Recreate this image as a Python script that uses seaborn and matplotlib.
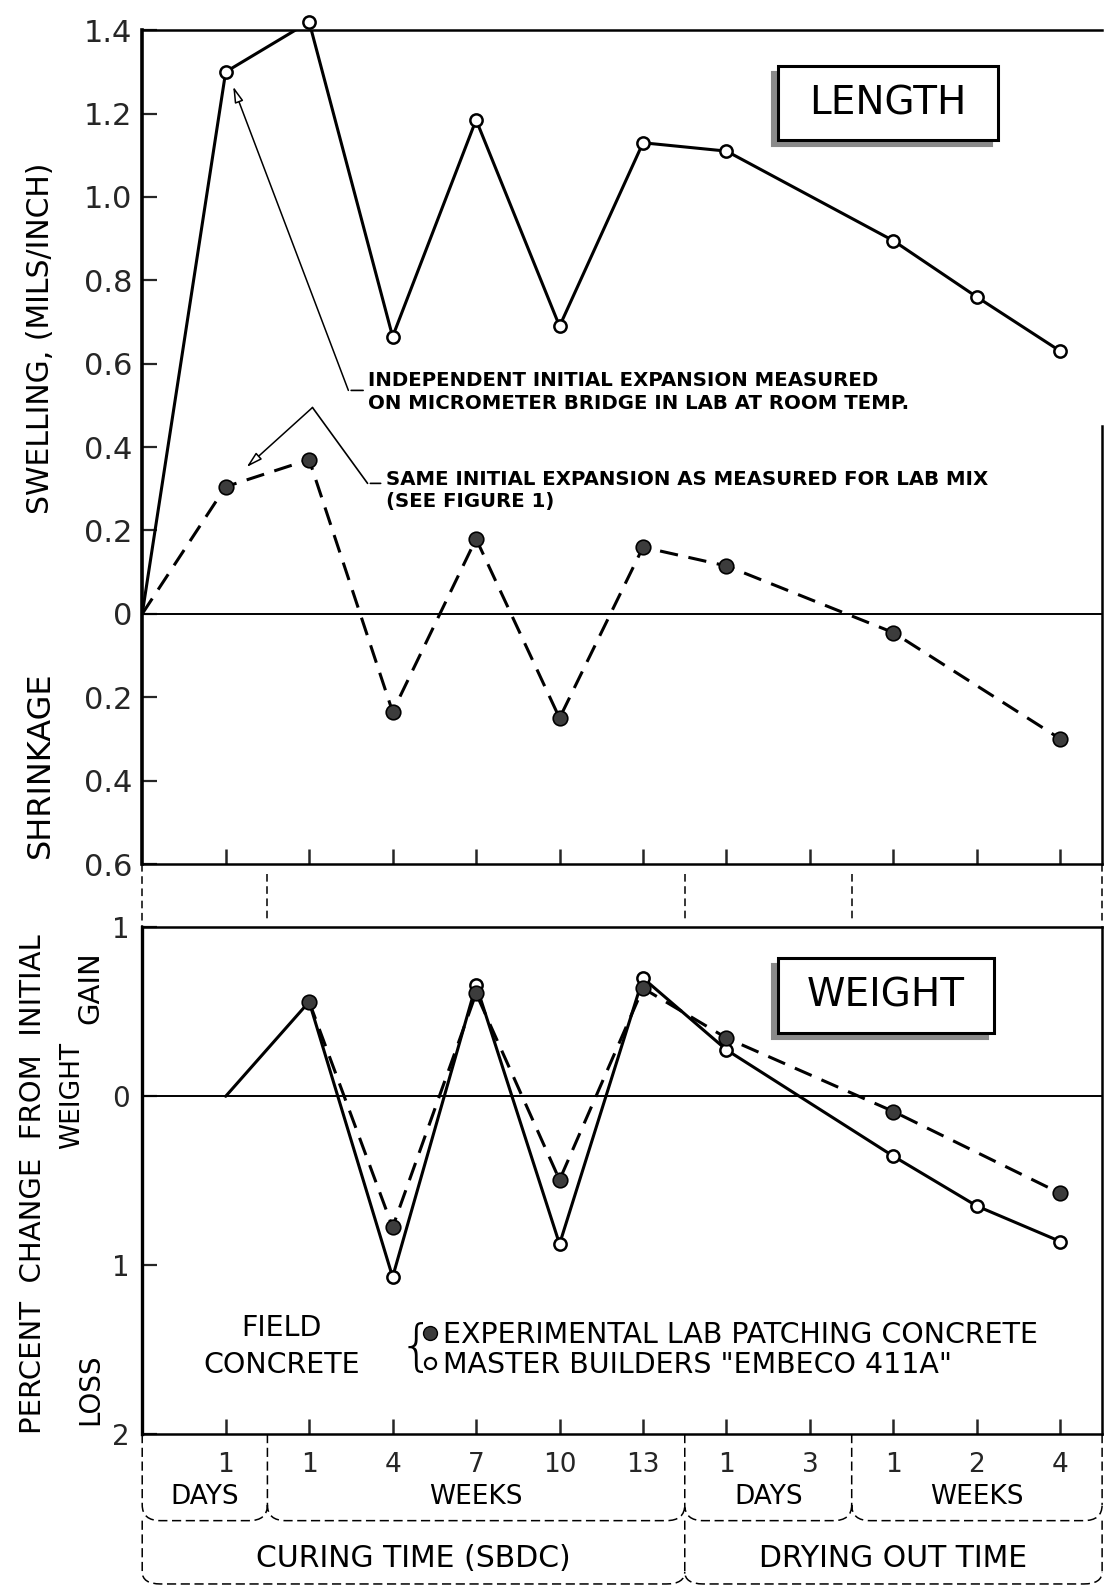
import matplotlib
matplotlib.use("Agg")
import matplotlib.pyplot as plt
import matplotlib.transforms as mtrans
from matplotlib.path import Path
from matplotlib.patches import PathPatch, Rectangle
from matplotlib.lines import Line2D
import pandas as pd
import seaborn as sns

# ---------------- data ----------------
tick_pos = [1, 2, 3, 4, 5, 6, 7, 8, 9, 10, 11]
tick_labels = ["1", "1", "4", "7", "10", "13", "1", "3", "1", "2", "4"]

len_open_x = [0, 1, 2, 3, 4, 5, 6, 7, 9, 10, 11]
len_open_y = [0, 1.30, 1.42, 0.665, 1.185, 0.69, 1.13, 1.11, 0.895, 0.76, 0.63]
len_fill_x = [0, 1, 2, 3, 4, 5, 6, 7, 9, 11]
len_fill_y = [0, 0.305, 0.37, -0.235, 0.18, -0.25, 0.16, 0.115, -0.045, -0.30]

wt_open_x = [1, 2, 3, 4, 5, 6, 7, 9, 10, 11]
wt_open_y = [0, 0.56, -1.07, 0.66, -0.875, 0.70, 0.275, -0.355, -0.65, -0.86]
wt_fill_x = [2, 3, 4, 5, 6, 7, 9, 11]
wt_fill_y = [0.56, -0.775, 0.61, -0.495, 0.64, 0.345, -0.09, -0.575]

group_bounds = [0, 1.5, 6.5, 8.5, 11.5]
group_names = ["DAYS", "WEEKS", "DAYS", "WEEKS"]
phase_bounds = [0, 6.5, 11.5]
phase_names = ["CURING TIME (SBDC)", "DRYING OUT TIME"]

len_yticks = [-0.6, -0.4, -0.2, 0, 0.2, 0.4, 0.6, 0.8, 1.0, 1.2, 1.4]
len_yticklabels = ["0.6", "0.4", "0.2", "0", "0.2", "0.4", "0.6", "0.8", "1.0", "1.2", "1.4"]
wt_yticks = [-2, -1, 0, 1]
wt_yticklabels = ["2", "1", "0", "1"]

# ---------------- style ----------------
sns.set_theme(style="white")
plt.rcParams["font.family"] = ["DejaVu Sans"]
plt.rcParams["text.color"] = "black"

fig = plt.figure(figsize=(11.11, 15.90), dpi=100)
ax1 = fig.add_axes([0.128, 0.4566, 0.864, 0.5244])
ax2 = fig.add_axes([0.128, 0.0981, 0.864, 0.3186])

LW = 2.2
DASH = (0, (6, 3.5))
FILLC = "#3c3c3c"


def draw_series(ax, x, y, dashed, filled, marker_skip_first=False):
    df = pd.DataFrame({"x": x, "y": y})
    kw = dict(linestyle=DASH) if dashed else {}
    sns.lineplot(data=df, x="x", y="y", ax=ax, color="black", lw=LW,
                 estimator=None, sort=False, zorder=3, **kw)
    dm = df.iloc[1:] if marker_skip_first else df
    if filled:
        sns.scatterplot(data=dm, x="x", y="y", ax=ax, s=110, color=FILLC,
                        edgecolor="black", linewidth=1.2, zorder=6, clip_on=False)
    else:
        sns.scatterplot(data=dm, x="x", y="y", ax=ax, s=78, color="white",
                        edgecolor="black", linewidth=1.8, zorder=5, clip_on=False)


def shadow_box(ax, x0, y0, x1, y1, label, fs=28):
    shift = mtrans.ScaledTranslation(-6 / 100, -6 / 100, fig.dpi_scale_trans)
    ax.add_patch(Rectangle((x0, y0), x1 - x0, y1 - y0, transform=ax.transAxes + shift,
                           fc="#8a8a8a", ec="#8a8a8a", lw=1.5, zorder=7, clip_on=False))
    ax.add_patch(Rectangle((x0, y0), x1 - x0, y1 - y0, transform=ax.transAxes,
                           fc="white", ec="black", lw=2.2, zorder=8, clip_on=False))
    ax.text((x0 + x1) / 2, (y0 + y1) / 2, label, transform=ax.transAxes, fontsize=fs,
            ha="center", va="center", color="black", zorder=9)


# ---------------- top panel: LENGTH ----------------
draw_series(ax1, len_open_x, len_open_y, dashed=False, filled=False, marker_skip_first=True)
draw_series(ax1, len_fill_x, len_fill_y, dashed=True, filled=True, marker_skip_first=True)
ax1.axhline(0, color="black", lw=1.4, zorder=2)
ax1.set_xlim(0, 11.5)
ax1.set_ylim(-0.6, 1.4)
ax1.set_xticks(tick_pos)
ax1.set_xticklabels([])
ax1.set_yticks(len_yticks)
ax1.set_yticklabels(len_yticklabels)
ax1.tick_params(axis="y", direction="in", length=11, width=1.6, pad=7,
                labelsize=22, left=True)
ax1.tick_params(axis="x", direction="in", length=11, width=1.8, bottom=True)
ax1.set_xlabel("")
ax1.set_ylabel("")
for s in ax1.spines.values():
    s.set_color("black")
    s.set_linewidth(1.8)
ax1.spines["left"].set_linewidth(2.6)
ax1.spines["right"].set_bounds(-0.6, 0.45)

# annotations
afs = 14.2
ax1.text(2.71, 0.582, "INDEPENDENT INITIAL EXPANSION MEASURED\nON MICROMETER BRIDGE IN LAB AT ROOM TEMP.",
         fontsize=afs, fontweight="bold", ha="left", va="top", linespacing=1.25)
ax1.annotate("", xy=(2.47, 0.536), xytext=(2.68, 0.536),
             arrowprops=dict(arrowstyle="-", color="black", lw=1.2))
ax1.annotate("", xy=(1.09, 1.265), xytext=(2.47, 0.536),
             arrowprops=dict(arrowstyle="-|>,head_length=0.8,head_width=0.22",
                             color="black", lw=1.1, fc="white", shrinkA=0, shrinkB=0))

ax1.text(2.92, 0.345, "SAME INITIAL EXPANSION AS MEASURED FOR LAB MIX\n(SEE FIGURE 1)",
         fontsize=afs, fontweight="bold", ha="left", va="top", linespacing=1.2)
ax1.annotate("", xy=(2.70, 0.313), xytext=(2.89, 0.313),
             arrowprops=dict(arrowstyle="-", color="black", lw=1.2))
ax1.annotate("", xy=(2.04, 0.495), xytext=(2.70, 0.313),
             arrowprops=dict(arrowstyle="-", color="black", lw=1.2, shrinkA=0, shrinkB=0))
ax1.annotate("", xy=(1.25, 0.352), xytext=(2.04, 0.495),
             arrowprops=dict(arrowstyle="-|>,head_length=0.8,head_width=0.22",
                             color="black", lw=1.1, fc="white", shrinkA=0, shrinkB=0))

shadow_box(ax1, 0.662, 0.868, 0.892, 0.957, "LENGTH")

# ---------------- bottom panel: WEIGHT ----------------
draw_series(ax2, wt_open_x, wt_open_y, dashed=False, filled=False, marker_skip_first=True)
draw_series(ax2, wt_fill_x, wt_fill_y, dashed=True, filled=True)
ax2.axhline(0, color="black", lw=1.4, zorder=2)
ax2.set_xlim(0, 11.5)
ax2.set_ylim(-2, 1)
ax2.set_xticks(tick_pos)
ax2.set_xticklabels(tick_labels)
ax2.set_yticks(wt_yticks)
ax2.set_yticklabels(wt_yticklabels)
ax2.tick_params(axis="y", direction="in", length=11, width=1.6, pad=9,
                labelsize=20, left=True)
ax2.tick_params(axis="x", direction="in", length=11, width=1.8, pad=13,
                labelsize=19, bottom=True)
ax2.set_xlabel("")
ax2.set_ylabel("")
for s in ax2.spines.values():
    s.set_color("black")
    s.set_linewidth(1.8)
ax2.spines["left"].set_linewidth(2.4)

shadow_box(ax2, 0.662, 0.792, 0.887, 0.940, "WEIGHT")

# legend
handles = [
    Line2D([], [], marker="o", linestyle="none", markersize=10, markerfacecolor=FILLC,
           markeredgecolor="black", markeredgewidth=1.0),
    Line2D([], [], marker="o", linestyle="none", markersize=8, markerfacecolor="white",
           markeredgecolor="black", markeredgewidth=1.6),
]
ax2.legend(handles, ['EXPERIMENTAL LAB PATCHING CONCRETE', 'MASTER BUILDERS "EMBECO 411A"'],
           loc="center left", bbox_to_anchor=(0.289, 0.166), frameon=False,
           fontsize=20.5, handlelength=0.7, handletextpad=0.12, labelspacing=0.05,
           borderaxespad=0, borderpad=0)
ax2.text(0.145, 0.209, "FIELD", transform=ax2.transAxes, fontsize=20.5,
         ha="center", va="center")
ax2.text(0.145, 0.136, "CONCRETE", transform=ax2.transAxes, fontsize=20.5,
         ha="center", va="center")
ax2.text(0.286, 0.168, "{", transform=ax2.transAxes, fontsize=40,
         ha="center", va="center", fontweight="light")

# ---------------- separators between panels ----------------
tr1 = ax1.get_xaxis_transform()
for b in group_bounds:
    y0 = 0.0 if b in (0, 11.5) else -0.012
    y1 = -0.076 if b == 0 else -0.068
    ax1.add_line(Line2D([b, b], [y0, y1], transform=tr1, color="black", lw=1.1,
                        linestyle=(0, (5, 3)), clip_on=False))

# ---------------- brackets below bottom panel ----------------
tr2 = ax2.get_xaxis_transform()


def bracket_row(bounds, y_top, y_mid, y_bot, dx):
    verts, codes = [], []
    for a, b in zip(bounds[:-1], bounds[1:]):
        verts += [(a, y_top), (a, y_mid), (a, y_bot), (a + dx, y_bot),
                  (b - dx, y_bot), (b, y_bot), (b, y_mid)]
        codes += [Path.MOVETO, Path.LINETO, Path.CURVE3, Path.CURVE3,
                  Path.LINETO, Path.CURVE3, Path.CURVE3]
    last = bounds[-1]
    verts += [(last, y_top), (last, y_mid)]
    codes += [Path.MOVETO, Path.LINETO]
    patch = PathPatch(Path(verts, codes), transform=tr2, fill=False, ec="black",
                      lw=1.1, linestyle=(0, (6, 3)), clip_on=False)
    ax2.add_patch(patch)


bracket_row(group_bounds, 0.0, -0.140, -0.171, 0.22)
bracket_row(phase_bounds, -0.171, -0.272, -0.296, 0.22)

for a, b, name in zip(group_bounds[:-1], group_bounds[1:], group_names):
    ax2.text((a + b) / 2, -0.125, name, transform=tr2, fontsize=19,
             ha="center", va="center", clip_on=False)
for a, b, name in zip(phase_bounds[:-1], phase_bounds[1:], phase_names):
    ax2.text((a + b) / 2, -0.245, name, transform=tr2, fontsize=21.5,
             ha="center", va="center", clip_on=False)

# ---------------- axis titles ----------------
fig.text(0.0365, 0.787, "SWELLING, (MILS/INCH)", rotation=90, fontsize=21.5,
         ha="center", va="center")
fig.text(0.0365, 0.519, "SHRINKAGE", rotation=90, fontsize=23,
         ha="center", va="center")
fig.text(0.030, 0.255, "PERCENT  CHANGE  FROM  INITIAL", rotation=90, fontsize=21,
         ha="center", va="center")
fig.text(0.065, 0.311, "WEIGHT", rotation=90, fontsize=19,
         ha="center", va="center")
fig.text(0.081, 0.379, "GAIN", rotation=90, fontsize=21,
         ha="center", va="center")
fig.text(0.081, 0.1265, "LOSS", rotation=90, fontsize=20,
         ha="center", va="center")

fig.savefig("out.png", dpi=100)
